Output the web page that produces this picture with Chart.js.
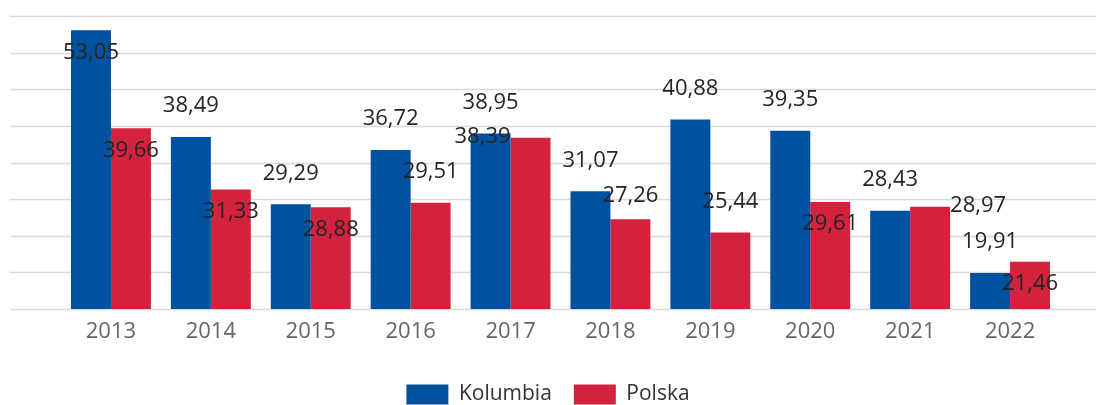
<!DOCTYPE html>
<html>
<head>
<meta charset="utf-8">
<script src="https://cdn.jsdelivr.net/npm/chart.js@4.4.1/dist/chart.umd.min.js"></script>
<style>
  html, body { margin: 0; padding: 0; background: #fff; overflow: hidden; }
  #wrap { width: 1096px; height: 415px; }
</style>
</head>
<body>
<div id="wrap"><canvas id="myChart"></canvas></div>
<script>
const years = ["2013", "2014", "2015", "2016", "2017", "2018", "2019", "2020", "2021", "2022"];
const kolumbia = [53.05, 38.49, 29.29, 36.72, 38.95, 31.07, 40.88, 39.35, 28.43, 19.91];
const polska = [39.66, 31.33, 28.88, 29.51, 38.39, 27.26, 25.44, 29.61, 28.97, 21.46];

// where each value label sits relative to its bar
const kolumbiaPlace = ["in", "out", "out", "out", "out", "out", "out", "out", "out", "out"];
const polskaPlace = ["in", "in", "in", "out", "left", "low", "out", "in", "right", "in"];

const labelFont = "22px 'Open Sans'";

// horizontal grid lines run across the whole width
const gridLines = {
  id: "gridLines",
  beforeDatasetsDraw: (chart) => {
    const { ctx, scales } = chart;
    const y = scales.y;
    ctx.save();
    ctx.strokeStyle = "#dadada";
    ctx.lineWidth = 1.5;
    y.ticks.forEach((t) => {
      const py = Math.round(y.getPixelForValue(t.value)) + 0.5;
      ctx.beginPath();
      ctx.moveTo(10, py);
      ctx.lineTo(chart.width, py);
      ctx.stroke();
    });
    ctx.restore();
  },
};

// center the legend on the full canvas, not on the padded area
const legendCenter = {
  id: "legendCenter",
  afterLayout: (chart) => {
    if (chart.legend) {
      chart.legend.left = 0;
      chart.legend.right = chart.width;
    }
  },
};

const valueLabels = {
  id: "valueLabels",
  afterDatasetsDraw: (chart) => {
    const { ctx } = chart;
    const places = [kolumbiaPlace, polskaPlace];
    ctx.save();
    ctx.font = labelFont;
    ctx.fillStyle = "#252525";
    ctx.textBaseline = "middle";
    chart.data.datasets.forEach((ds, di) => {
      const meta = chart.getDatasetMeta(di);
      meta.data.forEach((bar, i) => {
        const text = ds.data[i].toFixed(2).replace(".", ",");
        const place = places[di][i];
        let x = bar.x;
        let y = bar.y;
        ctx.textAlign = "center";
        if (place == "in") {
          y = bar.y + 22;
        } else if (place == "out") {
          y = bar.y - 31;
        } else if (place == "low") {
          y = bar.y - 23;
        } else if (place == "left") {
          ctx.textAlign = "right";
          x = bar.x - bar.width / 2;
          y = bar.y - 1;
        } else if (place == "right") {
          ctx.textAlign = "left";
          x = bar.x + bar.width / 2;
          y = bar.y - 1;
        }
        ctx.fillText(text, x, y);
      });
    });
    ctx.restore();
  },
};

const ctx = document.getElementById("myChart");

new Chart(ctx, {
  type: "bar",
  data: {
    labels: years,
    datasets: [
      {
        label: "Kolumbia",
        data: kolumbia,
        backgroundColor: "#0051a0",
        categoryPercentage: 0.8,
        barPercentage: 1.0,
      },
      {
        label: "Polska",
        data: polska,
        backgroundColor: "#d4213d",
        categoryPercentage: 0.8,
        barPercentage: 1.0,
      },
    ],
  },
  options: {
    responsive: true,
    maintainAspectRatio: false,
    animation: false,
    layout: {
      padding: { left: 61, right: 36, top: 16, bottom: 0 },
    },
    scales: {
      x: {
        grid: { display: false, drawTicks: false },
        border: { display: false },
        ticks: {
          color: "#666",
          padding: 10,
          font: { family: "'Open Sans'", size: 22 },
        },
        afterFit: (scale) => {
          scale.height = 53;
        },
      },
      y: {
        display: false,
        min: 15,
        max: 55,
        ticks: { stepSize: 5 },
      },
    },
    plugins: {
      legend: {
        position: "bottom",
        labels: {
          boxWidth: 42,
          boxHeight: 20,
          padding: 22,
          color: "#333",
          font: { family: "'Open Sans'", size: 21 },
        },
      },
      tooltip: { enabled: false },
    },
  },
  plugins: [gridLines, legendCenter, valueLabels],
});
</script>
</body>
</html>
